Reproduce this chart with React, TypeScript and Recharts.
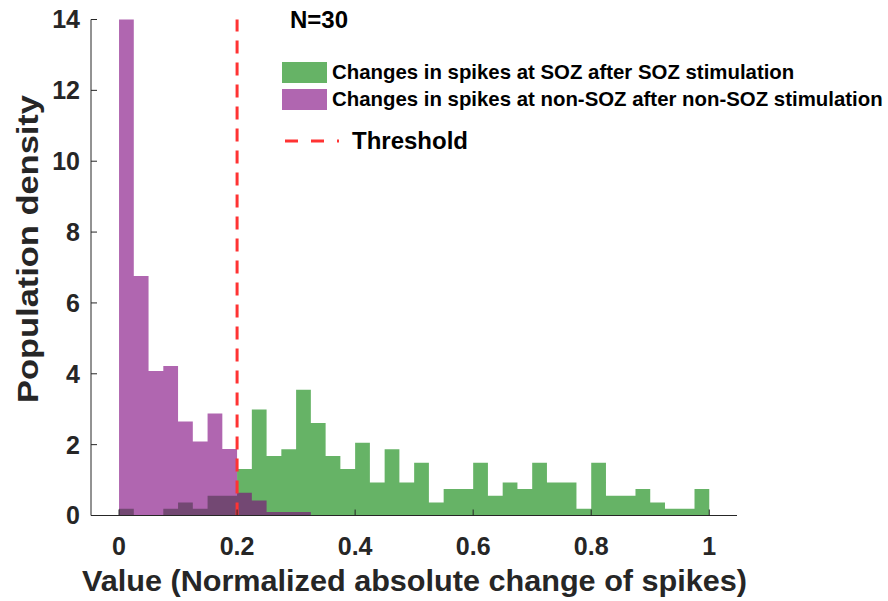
import React from 'react';
import { ComposedChart, Area, XAxis, YAxis, ReferenceLine, Label } from 'recharts';

// histogram bins: width 0.025 from 0 to 1
const BIN_WIDTH = 0.025;

// Changes in spikes at SOZ after SOZ stimulation (density per bin)
const sozValues = [
  0.19, 0, 0, 0.19, 0.37, 0.19, 0.56, 0.56, 1.31, 2.99,
  1.68, 1.87, 3.55, 2.61, 1.68, 1.31, 2.05, 0.93, 1.87, 0.93,
  1.49, 0.37, 0.75, 0.75, 1.49, 0.56, 0.93, 0.75, 1.49, 0.93,
  0.93, 0.19, 1.49, 0.56, 0.56, 0.75, 0.37, 0.19, 0.19, 0.75,
];

// Changes in spikes at non-SOZ after non-SOZ stimulation
const nonSozValues = [
  14, 6.76, 4.08, 4.22, 2.65, 2.09, 2.88, 1.88, 0.64, 0.42,
  0.1, 0.1, 0.1, 0, 0, 0, 0, 0, 0, 0,
  0, 0, 0, 0, 0, 0, 0, 0, 0, 0,
  0, 0, 0, 0, 0, 0, 0, 0, 0, 0,
];

const xTicks = [0, 0.2, 0.4, 0.6, 0.8, 1];
const yTicks = [0, 2, 4, 6, 8, 10, 12, 14];
const threshold = 0.2;

const legendItems = [
  { label: 'Changes in spikes at SOZ after SOZ stimulation', color: '#008000' },
  { label: 'Changes in spikes at non-SOZ after non-SOZ stimulation', color: '#7b007b' },
];

// step data: one point per bin edge, last edge closes the histogram
const data = sozValues.map((v, i) => ({
  x: +(i * BIN_WIDTH).toFixed(3),
  soz: v,
  nonSoz: nonSozValues[i],
}));
data.push({ x: 1, soz: 0, nonSoz: 0 });

const FONT = '"Liberation Sans", Arial, sans-serif';
const INK = '#262626';

const tickStyle = { fontSize: 25, fontWeight: 700, fontFamily: FONT, fill: INK };
const titleStyle = { fontSize: 30, fontWeight: 700, fontFamily: FONT, fill: INK };

export default function App() {
  return (
    <div style={{ position: 'absolute', left: 0, top: 0, width: 888, height: 601, background: '#fff' }}>
      <ComposedChart
        width={888}
        height={601}
        data={data}
        margin={{ top: 19.5, right: 151, left: 0, bottom: 0 }}
      >
        <XAxis
          dataKey="x"
          type="number"
          domain={[-0.0475, 1.047]}
          ticks={xTicks}
          height={85.5}
          stroke={INK}
          tickSize={-6}
          tickMargin={28}
          tick={tickStyle}
        >
          <Label
            content={() => (
              <text x={414.5} y={580} textAnchor="middle" dominantBaseline="central"
                textLength={665} lengthAdjust="spacingAndGlyphs" style={titleStyle}>
                Value (Normalized absolute change of spikes)
              </text>
            )}
          />
        </XAxis>
        <YAxis
          type="number"
          domain={[0, 14]}
          ticks={yTicks}
          width={91}
          stroke={INK}
          tickSize={-6}
          tickMargin={17}
          tick={tickStyle}
        >
          <Label
            content={() => (
              <text x={27} y={249} transform="rotate(-90, 27, 249)" textAnchor="middle" dominantBaseline="central"
                textLength={308} lengthAdjust="spacingAndGlyphs" style={titleStyle}>
                Population density
              </text>
            )}
          />
        </YAxis>
        <Area
          type="stepAfter"
          dataKey="soz"
          stroke="none"
          fill="#008000"
          fillOpacity={0.6}
          isAnimationActive={false}
        />
        <Area
          type="stepAfter"
          dataKey="nonSoz"
          stroke="none"
          fill="#7b007b"
          fillOpacity={0.6}
          isAnimationActive={false}
        />
        <ReferenceLine x={threshold} stroke="#ff3333" strokeWidth={3} strokeDasharray="13 9" />
      </ComposedChart>

      {/* legend box, drawn over the plot like the original */}
      <div style={{ position: 'absolute', left: 290, top: 8, fontFamily: FONT, fontWeight: 700, fontSize: 24, lineHeight: '24px', color: '#000' }}>
        N=30
      </div>
      {legendItems.map((item, i) => (
        <div key={item.label} style={{ position: 'absolute', left: 282, top: 62 + i * 27, height: 21, display: 'flex', alignItems: 'center' }}>
          <div style={{ width: 45, height: 21, background: item.color, opacity: 0.6 }} />
          <span style={{ marginLeft: 5, fontFamily: FONT, fontWeight: 700, fontSize: 20.4, lineHeight: '21px', color: '#000', whiteSpace: 'nowrap' }}>
            {item.label}
          </span>
        </div>
      ))}
      <div style={{ position: 'absolute', left: 284, top: 129, height: 24, display: 'flex', alignItems: 'center' }}>
        <svg width={66} height={24}>
          <line x1={1} y1={12} x2={55} y2={12} stroke="#ff3333" strokeWidth={3} strokeDasharray="13 13" />
        </svg>
        <span style={{ marginLeft: 2, fontFamily: FONT, fontWeight: 700, fontSize: 24, lineHeight: '24px', color: '#000' }}>
          Threshold
        </span>
      </div>
    </div>
  );
}
